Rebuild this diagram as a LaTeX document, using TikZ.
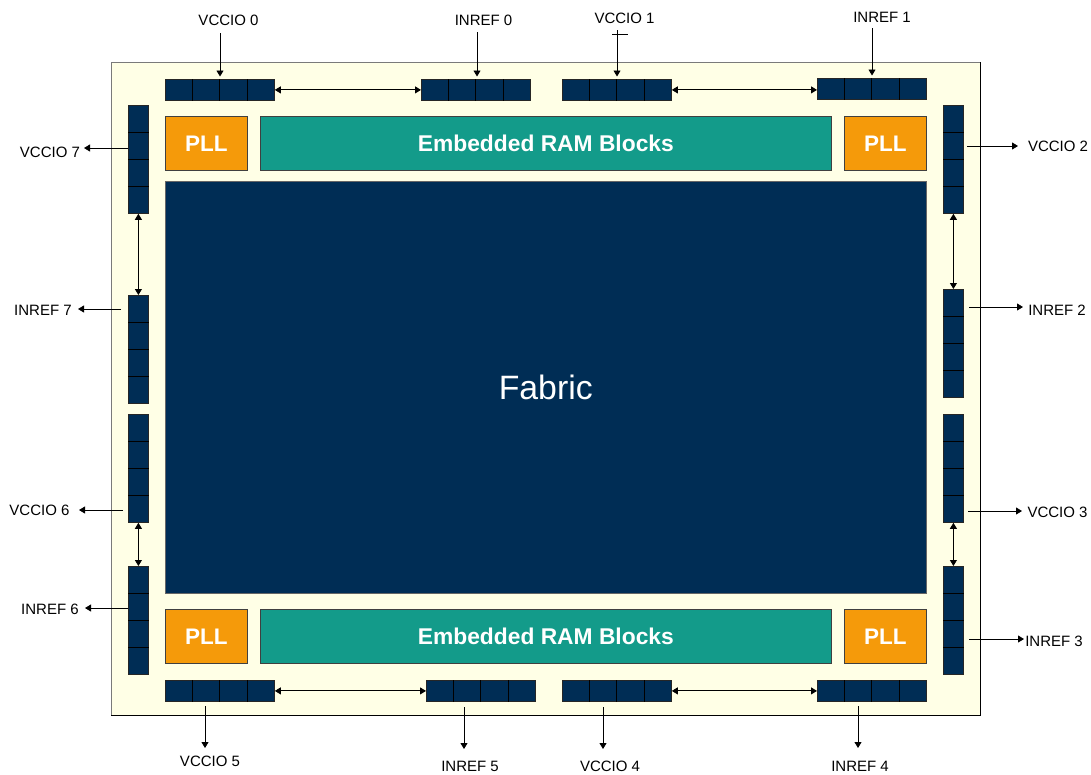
\documentclass[tikz,border=0pt]{standalone}
\usepackage{fontspec}
\setmainfont{Liberation Sans}
\usetikzlibrary{arrows.meta,calc}
\definecolor{navy}{HTML}{002D55}
\definecolor{ramteal}{HTML}{139B8A}
\definecolor{pllorange}{HTML}{F59A0A}
\definecolor{cream}{HTML}{FFFFE6}
\definecolor{edgegray}{HTML}{7A7A7A}
\tikzset{
  bankbox/.style={draw=black!85, fill=navy, line width=0.8pt, inner sep=0pt},
  divider/.style={draw=black, line width=0.9pt},
  pllbox/.style={draw=black!75, fill=pllorange, line width=0.7pt, inner sep=0pt,
    minimum width=82pt, minimum height=54pt, anchor=north west, text=white,
    font=\fontsize{22.5}{26}\bfseries\selectfont},
  rambox/.style={draw=black!75, fill=ramteal, line width=0.7pt, inner sep=0pt,
    minimum width=571pt, minimum height=54pt, anchor=north west, text=white,
    font=\fontsize{22.8}{26}\bfseries\selectfont},
  lbl/.style={font=\fontsize{15}{17}\selectfont, inner sep=0pt, text height=10.8pt, text depth=0pt},
  arr/.style={-{Triangle[width=7pt,length=6pt]}, line width=0.85pt},
  darr/.style={{Triangle[width=7pt,length=6pt]}-{Triangle[width=7pt,length=6pt]}, line width=0.85pt},
}
\newcommand\hbank[3]{%
  \node[bankbox, minimum width=109pt, minimum height=21pt, anchor=north west] (#1) at (#2,#3) {};
  \foreach \f in {0.25,0.5,0.75}
    \draw[divider] ($(#1.north west)!\f!(#1.north east)$) -- ($(#1.south west)!\f!(#1.south east)$);
}
\newcommand\vbank[3]{%
  \node[bankbox, minimum width=20pt, minimum height=108pt, anchor=north west] (#1) at (#2,#3) {};
  \foreach \f in {0.25,0.5,0.75}
    \draw[divider] ($(#1.north west)!\f!(#1.south west)$) -- ($(#1.north east)!\f!(#1.south east)$);
}
\begin{document}
\begin{tikzpicture}[x=1pt,y=-1pt]
\useasboundingbox (0,0) rectangle (1091,774);
% outer die
\draw[fill=cream, draw=edgegray, line width=1pt] (111,62) rectangle (980,715);
\draw[black, line width=1pt] (980,62) -- (980,715) -- (111,715);
% fabric
\node[fill=navy, draw=black!60, line width=0.5pt, inner sep=0pt, minimum width=761pt, minimum height=412pt,
  anchor=north west, text=white, font=\fontsize{33.8}{38}\selectfont] (fabric) at (165,181) {Fabric};
% PLLs and RAM
\node[pllbox] (pll1) at (165,116) {PLL};
\node[rambox] (ram1) at (260,116) {Embedded RAM Blocks};
\node[pllbox] (pll2) at (844,116) {PLL};
\node[pllbox] (pll3) at (165,609) {PLL};
\node[rambox] (ram2) at (260,609) {Embedded RAM Blocks};
\node[pllbox] (pll4) at (844,609) {PLL};
% banks top
\hbank{T1}{165}{79}
\hbank{T2}{421}{79}
\hbank{T3}{562}{79}
\hbank{T4}{817}{78}
% banks bottom
\hbank{B1}{165}{680}
\hbank{B2}{426}{680}
\hbank{B3}{562}{680}
\hbank{B4}{817}{680}
% banks left
\vbank{L1}{128}{105}
\vbank{L2}{128}{295}
\vbank{L3}{128}{414}
\vbank{L4}{128}{566}
% banks right
\vbank{R1}{943}{105}
\vbank{R2}{943}{289}
\vbank{R3}{943}{414}
\vbank{R4}{943}{566}
% double arrows between banks
\draw[darr] (T1.east) -- (T2.west);
\draw[darr] (T3.east) -- (T4.west |- T3.east);
\draw[darr] (B1.east) -- (B2.west);
\draw[darr] (B3.east) -- (B4.west);
\draw[darr] (L1.south) -- (L2.north);
\draw[darr] (L3.south) -- (L4.north);
\draw[darr] (R1.south) -- (R2.north);
\draw[darr] (R3.south) -- (R4.north);
% top labels
\node[lbl] (lv0) at (228.5,20.5) {VCCIO 0};
\node[lbl] (li0) at (483.5,20.5) {INREF 0};
\node[lbl] (lv1) at (624.5,18) {VCCIO 1};
\node[lbl] (li1) at (882,17.5) {INREF 1};
\coordinate (sv0) at (220,33);
\coordinate (si0) at (477,32);
\coordinate (sv1) at (617,30);
\coordinate (si1) at (872,28);
\draw[arr, shorten >=2.5pt] (sv0) -- (sv0 |- T1.north);
\draw[arr, shorten >=2.5pt] (si0) -- (si0 |- T2.north);
\draw[arr, shorten >=2.5pt] (sv1) -- (sv1 |- T3.north);
\draw[arr, shorten >=2.5pt] (si1) -- (si1 |- T4.north);
\coordinate (tk1) at (612,34);
\coordinate (tk2) at (628,34);
\draw[line width=0.7pt] (tk1) -- (tk2);
% bottom labels
\node[lbl] (lv5) at (210,761.5) {VCCIO 5};
\node[lbl] (li5) at (470,766.5) {INREF 5};
\node[lbl] (lv4) at (610,766.5) {VCCIO 4};
\node[lbl] (li4) at (860,766.5) {INREF 4};
\coordinate (sv5) at (205,706);
\coordinate (si5) at (464,707);
\coordinate (sv4) at (603,707);
\coordinate (si4) at (858,706);
\coordinate (ev5) at (205,748);
\coordinate (ei5) at (464,749);
\coordinate (ev4) at (603,749);
\coordinate (ei4) at (858,748);
\draw[arr] (sv5) -- (ev5);
\draw[arr] (si5) -- (ei5);
\draw[arr] (sv4) -- (ev4);
\draw[arr] (si4) -- (ei4);
% left labels
\node[lbl] (lv7) at (50,152) {VCCIO 7};
\node[lbl] (li7) at (43,310.5) {INREF 7};
\node[lbl] (lv6) at (39.5,510.5) {VCCIO 6};
\node[lbl] (li6) at (50,609.5) {INREF 6};
\coordinate (sv7) at (128,148);
\coordinate (si7) at (121,309);
\coordinate (sv6) at (123,510);
\coordinate (si6) at (128,608);
\draw[arr] (sv7) -- (84,148);
\draw[arr] (si7) -- (78,309);
\draw[arr] (sv6) -- (79,510);
\draw[arr] (si6) -- (85,608);
% right labels
\node[lbl] (lv2) at (1058,146.5) {VCCIO 2};
\node[lbl] (li2) at (1057,310.5) {INREF 2};
\node[lbl] (lv3) at (1057.5,512) {VCCIO 3};
\node[lbl] (li3) at (1054,641.5) {INREF 3};
\coordinate (sv2) at (967,146);
\coordinate (si2) at (969,307);
\coordinate (sv3) at (968,511);
\coordinate (si3) at (969,639);
\draw[arr] (sv2) -- (1018,146);
\draw[arr] (si2) -- (1023,307);
\draw[arr] (sv3) -- (1022,511);
\draw[arr] (si3) -- (1024,639);
\end{tikzpicture}
\end{document}
